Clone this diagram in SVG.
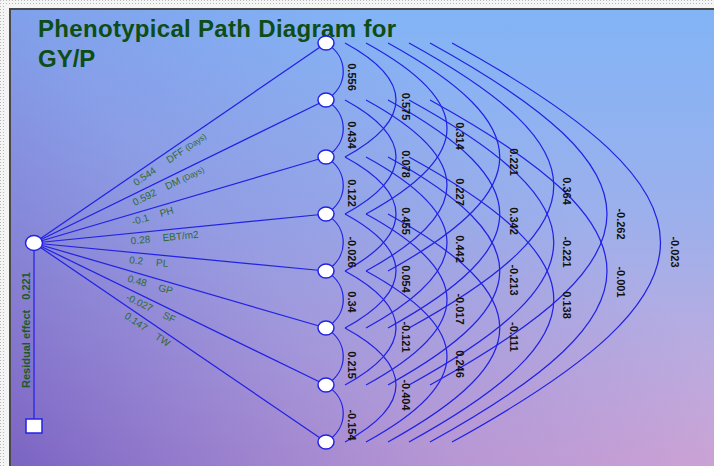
<svg xmlns="http://www.w3.org/2000/svg" width="714" height="466" viewBox="0 0 714 466">
<defs>
<linearGradient id="bg" x1="0" y1="0" x2="0" y2="1">
<stop offset="0" stop-color="#82b4f6"/>
<stop offset="0.45" stop-color="#9cb0ec"/>
<stop offset="1" stop-color="#d3a7d5"/>
</linearGradient>
<linearGradient id="ov" gradientUnits="userSpaceOnUse" x1="11" y1="466" x2="420" y2="60">
<stop offset="0" stop-color="#6a58c0" stop-opacity="0.85"/>
<stop offset="0.55" stop-color="#7a70d0" stop-opacity="0.3"/>
<stop offset="1" stop-color="#7a70d0" stop-opacity="0"/>
</linearGradient>
<pattern id="dots" width="3" height="3" patternUnits="userSpaceOnUse">
<rect width="3" height="3" fill="#f4f4f4"/>
<rect width="1" height="1" fill="#b8b8b8"/>
</pattern>
</defs>
<style>
.c{fill:none;stroke:#2222e4;stroke-width:1.25}
.nd{fill:#fff;stroke:#2222e4;stroke-width:1.5}
.t{font-family:"Liberation Sans",Arial,sans-serif}
.title{font-size:24px;font-weight:bold;fill:#0d4d16}
.lb{font-size:10px;fill:#2d6a35}
.sm{font-size:8px}
.r{font-size:11px;font-weight:bold;fill:#1c5a25}
.v{font-size:11px;font-weight:bold;fill:#111;text-anchor:middle}
</style>
<rect x="0" y="0" width="714" height="466" fill="#f4f4f4"/>
<rect x="0" y="0" width="714" height="5" fill="url(#dots)"/>
<rect x="0" y="0" width="5" height="466" fill="url(#dots)"/>
<rect x="9" y="8" width="705" height="2" fill="#4a4a4a"/>
<rect x="9" y="8" width="2" height="458" fill="#4a4a4a"/>
<rect x="11" y="10" width="703" height="456" fill="url(#bg)"/>
<rect x="11" y="10" width="703" height="456" fill="url(#ov)"/>

<g id="title" class="t title">
<text x="38" y="37" textLength="358" lengthAdjust="spacing">Phenotypical Path Diagram for</text>
<text x="38" y="67">GY/P</text>
</g>

<g id="connectors">
<line class="c" x1="34" y1="250" x2="34" y2="419"/>
<line class="c" x1="34" y1="243" x2="326" y2="43"/>
<line class="c" x1="34" y1="243" x2="326" y2="100"/>
<line class="c" x1="34" y1="243" x2="326" y2="157"/>
<line class="c" x1="34" y1="243" x2="326" y2="214"/>
<line class="c" x1="34" y1="243" x2="326" y2="271"/>
<line class="c" x1="34" y1="243" x2="326" y2="328"/>
<line class="c" x1="34" y1="243" x2="326" y2="385"/>
<line class="c" x1="34" y1="243" x2="326" y2="442"/>
<path class="c" d="M326,43 C349,57 349,86 326,100"/>
<path class="c" d="M326,100 C349,114 349,143 326,157"/>
<path class="c" d="M326,157 C349,171 349,200 326,214"/>
<path class="c" d="M326,214 C349,228 349,257 326,271"/>
<path class="c" d="M326,271 C349,285 349,314 326,328"/>
<path class="c" d="M326,328 C349,342 349,371 326,385"/>
<path class="c" d="M326,385 C349,399 349,428 326,442"/>
<path class="c" d="M345,43 C413,80 413,120 345,157"/>
<path class="c" d="M345,100 C413,137 413,177 345,214"/>
<path class="c" d="M345,157 C413,194 413,234 345,271"/>
<path class="c" d="M345,214 C413,251 413,291 345,328"/>
<path class="c" d="M345,271 C413,308 413,348 345,385"/>
<path class="c" d="M345,328 C413,365 413,405 345,442"/>
<path class="c" d="M366,43 C474,102 474,155 366,214"/>
<path class="c" d="M366,100 C474,159 474,212 366,271"/>
<path class="c" d="M366,157 C474,216 474,269 366,328"/>
<path class="c" d="M366,214 C474,273 474,326 366,385"/>
<path class="c" d="M366,271 C474,330 474,383 366,442"/>
<path class="c" d="M388,43 C537,125 537,189 388,271"/>
<path class="c" d="M388,100 C537,182 537,246 388,328"/>
<path class="c" d="M388,157 C537,239 537,303 388,385"/>
<path class="c" d="M388,214 C537,296 537,360 388,442"/>
<path class="c" d="M409,43 C602,149 602,222 409,328"/>
<path class="c" d="M409,100 C602,206 602,279 409,385"/>
<path class="c" d="M409,157 C602,263 602,336 409,442"/>
<path class="c" d="M430,43 C666,173 666,255 430,385"/>
<path class="c" d="M430,100 C666,230 666,312 430,442"/>
<path class="c" d="M452,43 C730,196 730,289 452,442"/>
</g>

<g id="path-labels" class="t lb">
<text transform="translate(130,177.2) rotate(-34.4)"><tspan x="0" y="11">0.544</tspan><tspan x="40" y="11">DFF <tspan class="sm">(Days)</tspan></tspan></text>
<text transform="translate(130,196) rotate(-26.1)"><tspan x="0" y="11">0.592</tspan><tspan x="36" y="11">DM <tspan class="sm">(Days)</tspan></tspan></text>
<text transform="translate(130,214.7) rotate(-16.4)"><tspan x="0" y="11">-0.1</tspan><tspan x="29" y="11">PH</tspan></text>
<text transform="translate(130,233.5) rotate(-5.7)"><tspan x="0" y="11">0.28</tspan><tspan x="32" y="11">EBT/m2</tspan></text>
<text transform="translate(130,252.2) rotate(5.5)"><tspan x="0" y="11">0.2</tspan><tspan x="27" y="11">PL</tspan></text>
<text transform="translate(130,270.9) rotate(16.2)"><tspan x="0" y="11">0.48</tspan><tspan x="32" y="11">GP</tspan></text>
<text transform="translate(130,289.7) rotate(25.9)"><tspan x="0" y="11">-0.027</tspan><tspan x="41" y="11">SF</tspan></text>
<text transform="translate(130,308.4) rotate(34.3)"><tspan x="0" y="11">0.147</tspan><tspan x="37" y="11">TW</tspan></text>
</g>

<g id="corr-labels" class="t v">
<text transform="translate(352,77) rotate(90)" y="4">0.556</text>
<text transform="translate(352,135) rotate(90)" y="4">0.434</text>
<text transform="translate(352,193) rotate(90)" y="4">0.122</text>
<text transform="translate(352,252) rotate(90)" y="4">-0.026</text>
<text transform="translate(352,302) rotate(90)" y="4">0.34</text>
<text transform="translate(352,365) rotate(90)" y="4">0.215</text>
<text transform="translate(352,425) rotate(90)" y="4">-0.154</text>
<text transform="translate(406,106.5) rotate(90)" y="4">0.575</text>
<text transform="translate(406,164) rotate(90)" y="4">0.078</text>
<text transform="translate(406,221) rotate(90)" y="4">0.455</text>
<text transform="translate(406,279) rotate(90)" y="4">0.054</text>
<text transform="translate(406,337) rotate(90)" y="4">-0.121</text>
<text transform="translate(406,395) rotate(90)" y="4">-0.404</text>
<text transform="translate(460,136) rotate(90)" y="4">0.314</text>
<text transform="translate(460,192) rotate(90)" y="4">0.227</text>
<text transform="translate(460,249) rotate(90)" y="4">0.442</text>
<text transform="translate(460,309) rotate(90)" y="4">-0.017</text>
<text transform="translate(460,364) rotate(90)" y="4">0.246</text>
<text transform="translate(514,162) rotate(90)" y="4">0.221</text>
<text transform="translate(514,221) rotate(90)" y="4">0.342</text>
<text transform="translate(514,280) rotate(90)" y="4">-0.213</text>
<text transform="translate(514,337) rotate(90)" y="4">-0.111</text>
<text transform="translate(567,191) rotate(90)" y="4">0.364</text>
<text transform="translate(567,252) rotate(90)" y="4">-0.221</text>
<text transform="translate(567,305) rotate(90)" y="4">0.138</text>
<text transform="translate(621,224) rotate(90)" y="4">-0.262</text>
<text transform="translate(621,282) rotate(90)" y="4">-0.001</text>
<text transform="translate(675,252) rotate(90)" y="4">-0.023</text>
</g>

<g id="node-gyp"><ellipse class="nd" cx="34" cy="243" rx="8.5" ry="7.5"/></g>
<g id="node-residual"><rect class="nd" x="26" y="419" width="16" height="14"/></g>
<g id="residual-label" class="t r"><text transform="translate(29.5,388) rotate(-90)">Residual effect <tspan dx="7">0.221</tspan></text></g>
<g id="node-dff"><ellipse class="nd" cx="326" cy="43" rx="8" ry="7"/></g>
<g id="node-dm"><ellipse class="nd" cx="326" cy="100" rx="8" ry="7"/></g>
<g id="node-ph"><ellipse class="nd" cx="326" cy="157" rx="8" ry="7"/></g>
<g id="node-ebt"><ellipse class="nd" cx="326" cy="214" rx="8" ry="7"/></g>
<g id="node-pl"><ellipse class="nd" cx="326" cy="271" rx="8" ry="7"/></g>
<g id="node-gp"><ellipse class="nd" cx="326" cy="328" rx="8" ry="7"/></g>
<g id="node-sf"><ellipse class="nd" cx="326" cy="385" rx="8" ry="7"/></g>
<g id="node-tw"><ellipse class="nd" cx="326" cy="442" rx="8" ry="7"/></g>
</svg>
